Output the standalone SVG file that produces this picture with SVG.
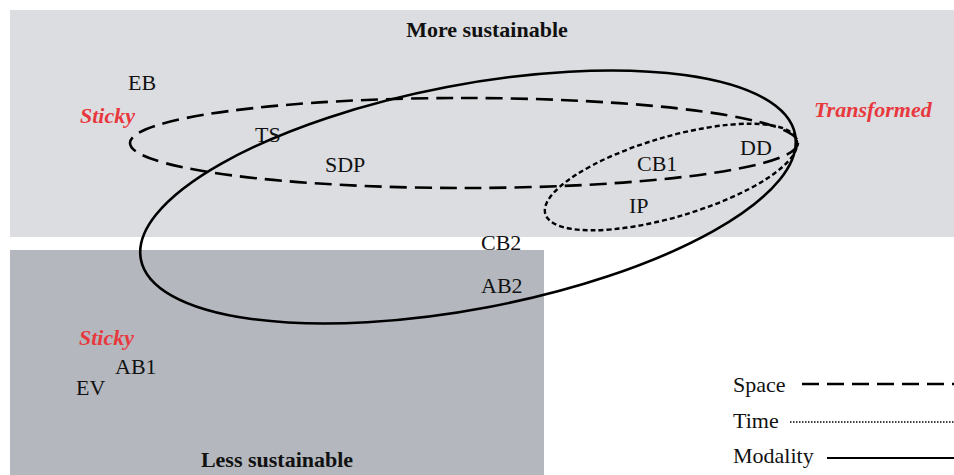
<svg xmlns="http://www.w3.org/2000/svg" width="954" height="475" viewBox="0 0 954 475">
<style>
text{font-family:"Liberation Serif","Times New Roman",serif;font-size:22px;fill:#111}
.b{font-weight:bold}
.r{font-weight:bold;font-style:italic;fill:#e8383d}
.o{fill:none;stroke:#000}
.sp{stroke-width:2.6;stroke-dasharray:17 8}
.tm{stroke-width:2.4;stroke-dasharray:5 3}
.md{stroke-width:2.6}
</style>
<rect id="more" x="10" y="10" width="944" height="227" fill="#dcdde1"/>
<rect id="less" x="10" y="250" width="534" height="225" fill="#b4b8be"/>
<g id="headings">
<text class="b" x="487" y="37" text-anchor="middle">More sustainable</text>
<text class="b" x="277" y="467" text-anchor="middle">Less sustainable</text>
</g>
<g id="connectors">
<ellipse class="o sp" cx="464" cy="143" rx="334" ry="45"/>
<ellipse class="o tm" cx="671" cy="177" rx="131" ry="40" transform="rotate(-16.4 671 177)"/>
<ellipse class="o md" cx="468" cy="197" rx="333" ry="112" transform="rotate(-10.8 468 197)"/>
</g>
<g id="states">
<text class="r" x="80" y="123">Sticky</text>
<text class="r" x="814" y="117">Transformed</text>
<text class="r" x="79" y="345">Sticky</text>
</g>
<g id="EB"><text x="128" y="90">EB</text></g>
<g id="TS"><text x="255" y="142">TS</text></g>
<g id="SDP"><text x="325" y="172">SDP</text></g>
<g id="DD"><text x="740" y="155">DD</text></g>
<g id="CB1"><text x="637" y="171">CB1</text></g>
<g id="IP"><text x="629" y="213">IP</text></g>
<g id="CB2"><text x="481" y="250">CB2</text></g>
<g id="AB2"><text x="481" y="293">AB2</text></g>
<g id="AB1"><text x="115" y="374">AB1</text></g>
<g id="EV"><text x="76" y="395">EV</text></g>
<g id="legend">
<text x="733" y="392">Space</text>
<line class="o sp" x1="802" y1="384" x2="954" y2="384" stroke-dasharray="15 7"/>
<text x="733" y="428">Time</text>
<line class="o" x1="790" y1="422" x2="954" y2="422" stroke-width="1.6" stroke-dasharray="1.5 1.5"/>
<text x="733" y="463">Modality</text>
<line class="o" x1="827" y1="458" x2="954" y2="458" stroke-width="2"/>
</g>
</svg>
